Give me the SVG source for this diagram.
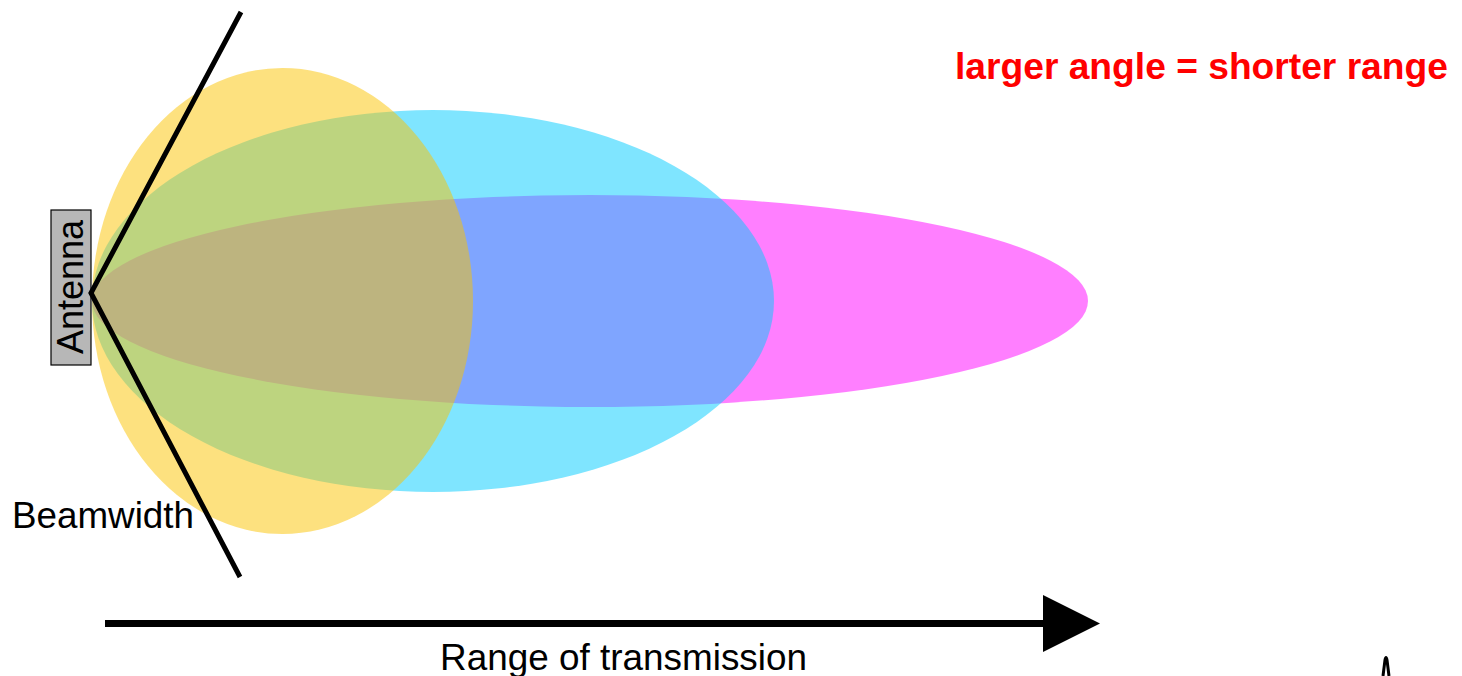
<svg xmlns="http://www.w3.org/2000/svg" width="1462" height="676" viewBox="0 0 1462 676">
  <style>
    .lobe { opacity: 0.5; }
    .beam { stroke: #000; stroke-width: 5; stroke-linecap: butt; fill: none; }
    .label { font-family: "Liberation Sans", Arial, sans-serif; fill: #000; }
  </style>
  <defs>
    <marker id="arrowhead" markerUnits="userSpaceOnUse" markerWidth="57" markerHeight="57" refX="0" refY="28.5" orient="auto" viewBox="0 0 57 57">
      <polygon points="0,0 57,28.5 0,57" fill="#000"/>
    </marker>
  </defs>
  <rect width="1462" height="676" fill="#fff"/>

  <!-- radiation lobes, narrowest and longest first -->
  <g id="lobe-narrow">
    <ellipse class="lobe" cx="590" cy="301" rx="498" ry="106" fill="#ff00ff"/>
  </g>
  <g id="lobe-medium">
    <ellipse class="lobe" cx="433" cy="301" rx="341" ry="191" fill="#00ccff"/>
  </g>
  <g id="lobe-wide">
    <ellipse class="lobe" cx="282.5" cy="301" rx="190.5" ry="233" fill="#fbc300"/>
  </g>

  <!-- antenna -->
  <g id="antenna">
    <rect x="51" y="210" width="40" height="155" fill="#b7b7b7" stroke="#000" stroke-width="1.2"/>
    <text class="label" transform="translate(83,287) rotate(-90)" text-anchor="middle" font-size="36">Antenna</text>
  </g>

  <!-- beamwidth lines and range arrow -->
  <g id="connectors">
    <polyline class="beam" points="241,12 91,293 240,577"/>
    <line x1="105" y1="623.5" x2="1043" y2="623.5" stroke="#000" stroke-width="7" marker-end="url(#arrowhead)"/>
    <path d="M1383,676 L1385,660 Q1386,655 1387,660 L1389,676" stroke="#000" stroke-width="3" fill="none"/>
  </g>

  <g id="labels">
    <text class="label" x="12" y="528" font-size="36.8">Beamwidth</text>
    <text class="label" x="440" y="670" font-size="36.9">Range of transmission</text>
    <text x="955" y="79" font-family="Liberation Sans, Arial, sans-serif" font-weight="bold" font-size="37.2" fill="#ff0000">larger angle = shorter range</text>
  </g>
</svg>
